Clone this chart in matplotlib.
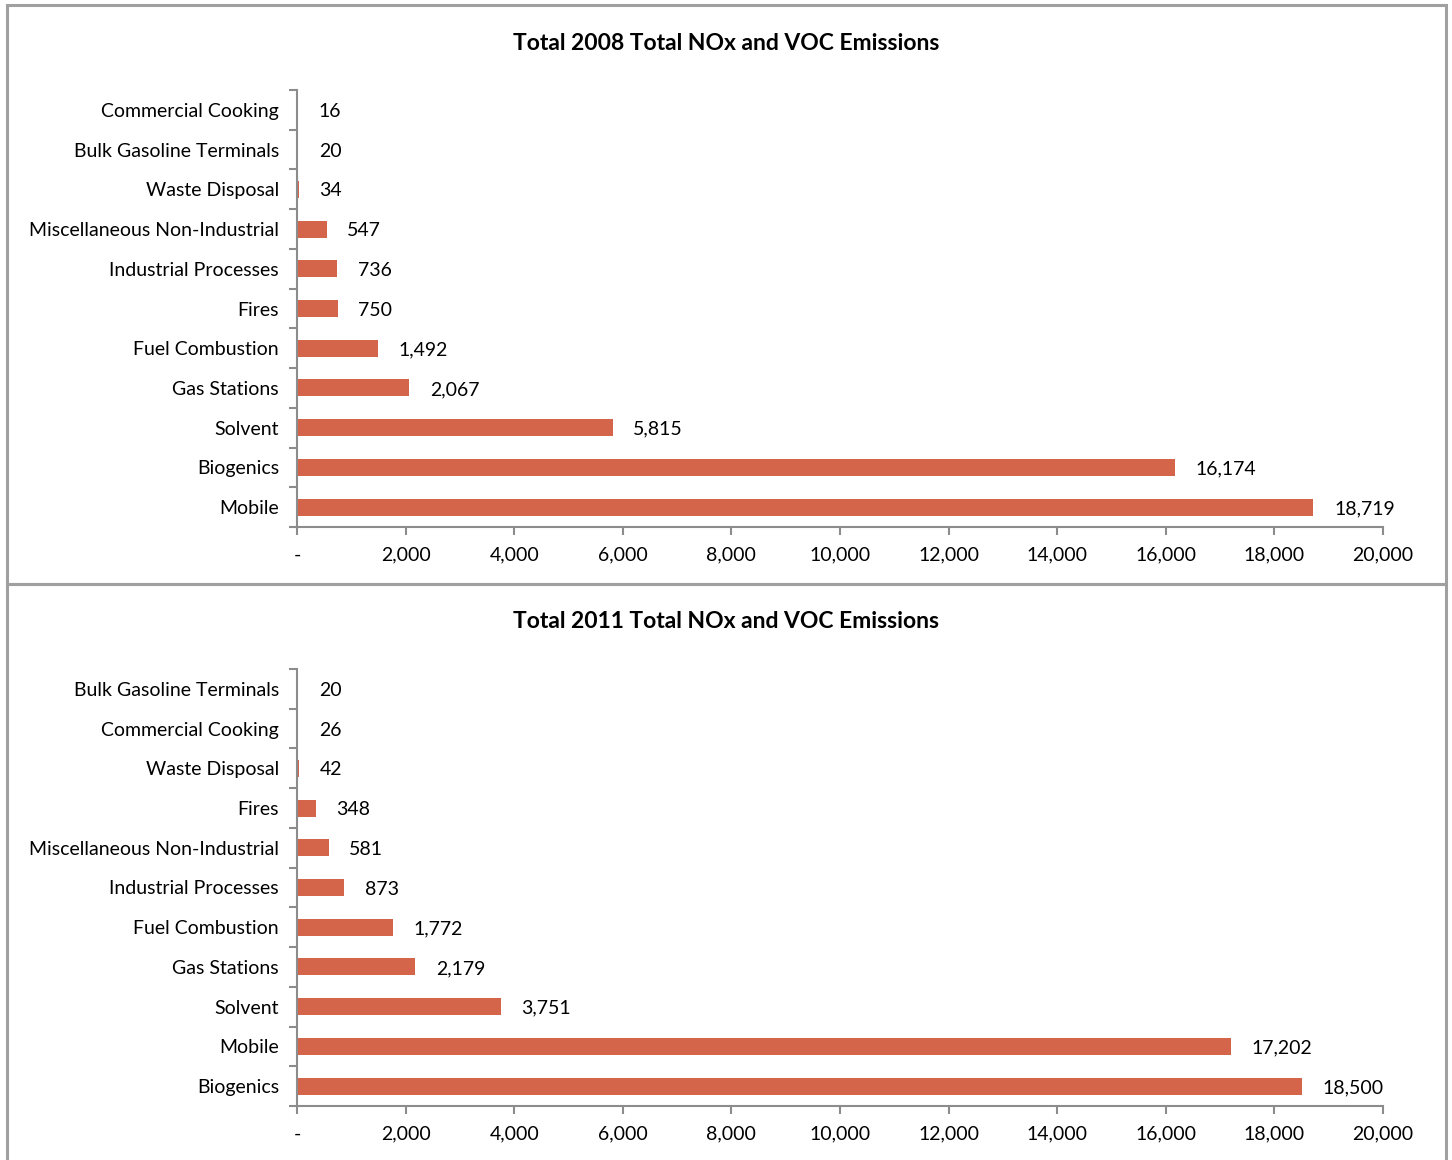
import matplotlib
matplotlib.use("Agg")
import matplotlib.pyplot as plt
from matplotlib.patches import Rectangle
from matplotlib.ticker import FuncFormatter, FixedLocator

# data, listed top to bottom as in the chart
cats_2008 = ["Commercial Cooking", "Bulk Gasoline Terminals", "Waste Disposal",
             "Miscellaneous Non-Industrial", "Industrial Processes", "Fires",
             "Fuel Combustion", "Gas Stations", "Solvent", "Biogenics", "Mobile"]
vals_2008 = [16, 20, 34, 547, 736, 750, 1492, 2067, 5815, 16174, 18719]

cats_2011 = ["Bulk Gasoline Terminals", "Commercial Cooking", "Waste Disposal",
             "Fires", "Miscellaneous Non-Industrial", "Industrial Processes",
             "Fuel Combustion", "Gas Stations", "Solvent", "Mobile", "Biogenics"]
vals_2011 = [20, 26, 42, 348, 581, 873, 1772, 2179, 3751, 17202, 18500]

titles = ["Total 2008 Total NOx and VOC Emissions",
          "Total 2011 Total NOx and VOC Emissions"]
xticks = list(range(0, 20001, 2000))

BAR = "#D4654A"
GRID = "#8c8c8c"
plt.rcParams["font.family"] = ["Lato", "DejaVu Sans"]

fig = plt.figure(figsize=(14.52, 11.6), dpi=100)

# outer chart frames
W, H = 1452, 1160
for (y0, y1) in [(5, 584), (584, 1175)]:
    fig.patches.append(Rectangle((7 / W, 1 - y1 / H), (1446 - 7) / W, (y1 - y0) / H,
                                 transform=fig.transFigure, fill=False,
                                 edgecolor="#a0a0a0", linewidth=2.2))


def money(v, pos):
    if v == 0:
        return "-"
    return f"{int(v):,}"


def draw(ax, cats, vals, title, title_y):
    cats = cats[::-1]
    vals = vals[::-1]
    pos = list(range(len(cats)))
    ax.barh(pos, vals, height=0.43, color=BAR)
    ax.set_xlim(0, 20000)
    ax.set_ylim(-0.5, len(cats) - 0.5)
    ax.set_yticks(pos)
    ax.set_yticklabels(cats, fontsize=14)
    ax.yaxis.set_minor_locator(FixedLocator([p - 0.5 for p in pos] + [len(cats) - 0.5]))
    ax.tick_params(axis="y", which="major", length=0, pad=13)
    ax.tick_params(axis="y", which="minor", length=6, color=GRID, width=1.5)
    ax.set_xticks(xticks)
    ax.xaxis.set_major_formatter(FuncFormatter(money))
    ax.tick_params(axis="x", length=6, color=GRID, width=1.5, labelsize=14, pad=8)
    for s in ["top", "right"]:
        ax.spines[s].set_visible(False)
    for s in ["left", "bottom"]:
        ax.spines[s].set_color(GRID)
        ax.spines[s].set_linewidth(1.5)
    for p, v in zip(pos, vals):
        ax.text(v + 380, p - 0.04, f"{v:,}", va="center", ha="left", fontsize=14)
    fig.text(0.5, title_y, title, ha="center", va="center",
             fontsize=16.5, fontweight="bold")


ax1 = fig.add_axes([297 / W, 1 - 527 / H, (1383 - 297) / W, 437 / H])
ax2 = fig.add_axes([297 / W, 1 - 1106 / H, (1383 - 297) / W, 437 / H])
draw(ax1, cats_2008, vals_2008, titles[0], 1 - 43 / H)
draw(ax2, cats_2011, vals_2011, titles[1], 1 - 622 / H)

fig.savefig("out.png", dpi=100)
